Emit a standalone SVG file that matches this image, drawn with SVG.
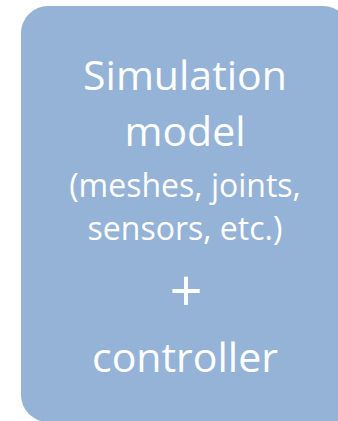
<svg xmlns="http://www.w3.org/2000/svg" width="338" height="421" viewBox="0 0 338 421">
  <style>
    .box { fill: #95b3d7; }
    .lbl { fill: #ffffff; font-family: "Open Sans", "Liberation Sans", sans-serif; text-anchor: middle; }
    .big { font-size: 41px; }
    .small { font-size: 32px; }
    .plus { font-size: 58px; }
  </style>
  <g id="sim-node">
    <!-- rounded panel; bottom-right corner is square -->
    <path class="box" d="M48,6 H323 A27,27 0 0 1 350,33 V422 H48 A27,27 0 0 1 21,395 V33 A27,27 0 0 1 48,6 Z"/>
    <text class="lbl big" x="185" y="90">Simulation</text>
    <text class="lbl big" x="185" y="145.5">model</text>
    <text class="lbl small" x="185" y="197">(meshes, joints,</text>
    <text class="lbl small" x="185" y="240">sensors, etc.)</text>
    <text class="lbl plus" x="186" y="312">+</text>
    <text class="lbl big" x="185" y="371.5">controller</text>
  </g>
  <g id="connectors"/>
</svg>
